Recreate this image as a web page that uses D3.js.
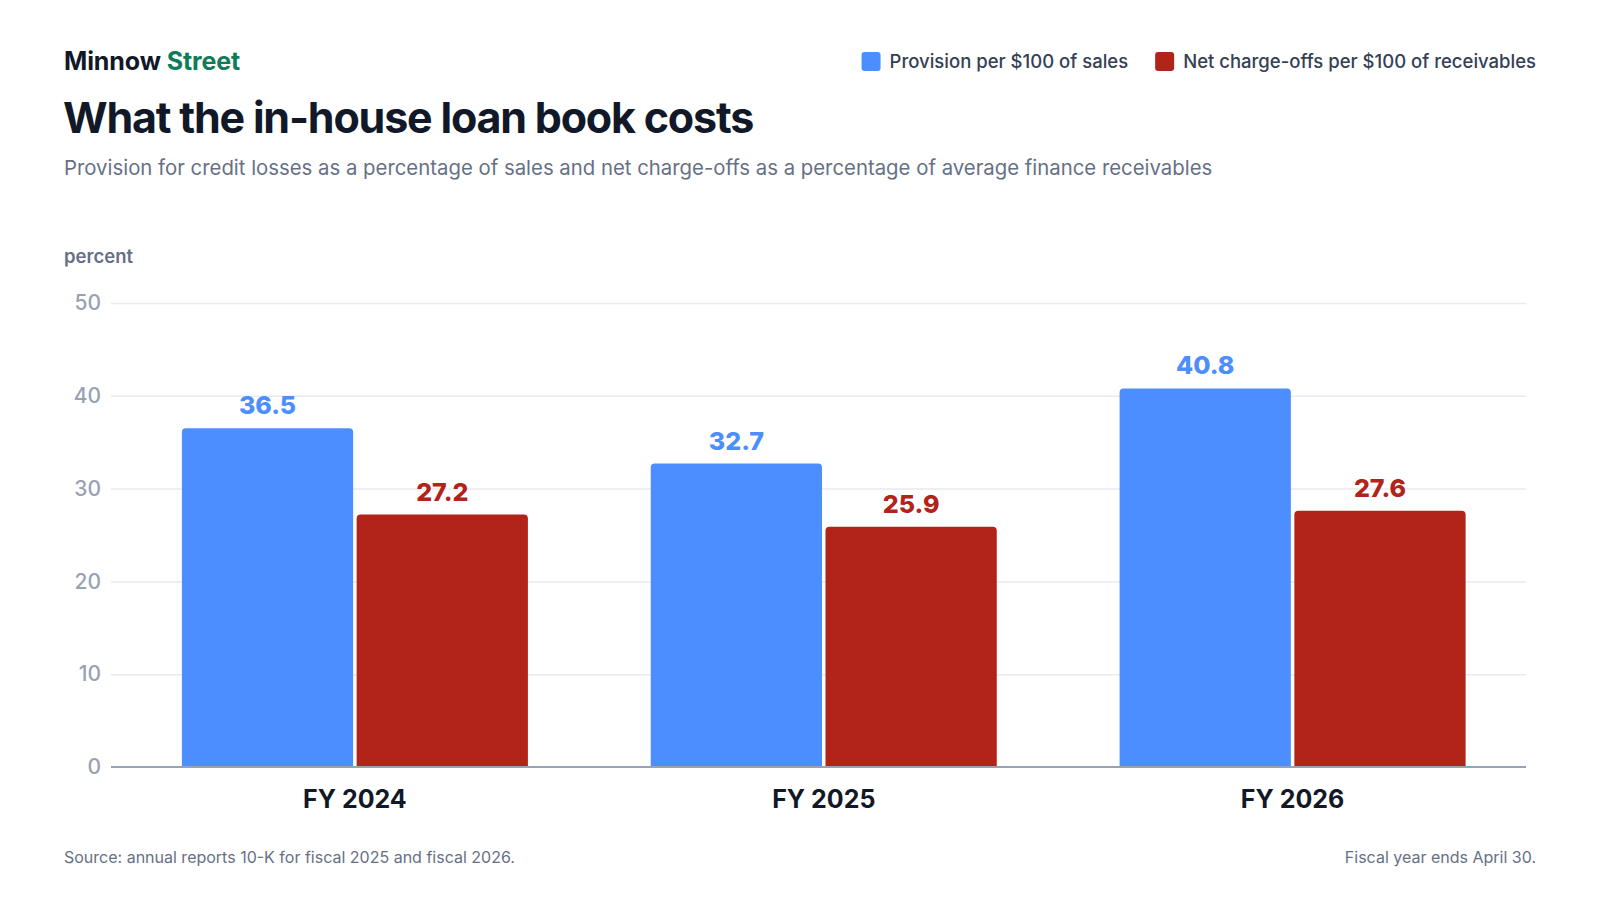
<!DOCTYPE html>
<html lang="en">
<head>
    <meta charset="UTF-8">
    <title>What the in-house loan book costs</title>
    <style>
        body {
            margin: 0;
            padding: 0;
            background: #ffffff;
            font-family: Inter, "Noto Sans", sans-serif;
        }
        svg text { font-family: Inter, "Noto Sans", sans-serif; }
    </style>
</head>
<body>
    <div id="chart"></div>

    <script src="https://d3js.org/d3.v7.min.js"></script>
    <script>
        // Data
        const years = ["FY 2024", "FY 2025", "FY 2026"];
        const seriesKeys = ["provision", "chargeoffs"];
        const seriesNames = ["Provision per $100 of sales", "Net charge-offs per $100 of receivables"];
        const provision = [36.5, 32.7, 40.8];
        const chargeoffs = [27.2, 25.9, 27.6];
        const yTicks = [0, 10, 20, 30, 40, 50];

        const width = 1600;
        const height = 900;
        const margin = {top: 303, right: 74, bottom: 133, left: 111};

        const colors = {provision: "#4d8eff", chargeoffs: "#b22319"};

        const rows = years.map((y, i) => ({year: y, provision: provision[i], chargeoffs: chargeoffs[i]}));

        const svg = d3.select("#chart").append("svg")
            .attr("width", width)
            .attr("height", height);

        const x0 = d3.scaleBand()
            .domain(years)
            .range([margin.left, width - margin.right])
            .paddingInner(0.262)
            .paddingOuter(0.14)
            .align(0.54);

        const x1 = d3.scaleBand()
            .domain(seriesKeys)
            .range([0, x0.bandwidth()])
            .paddingInner(0.02);

        const y = d3.scaleLinear()
            .domain([0, 50])
            .range([height - margin.bottom, margin.top]);

        // Header
        const brand = svg.append("text")
            .attr("x", 64)
            .attr("y", 70)
            .attr("font-size", 25)
            .attr("font-weight", 700)
            .attr("letter-spacing", -0.1);
        brand.append("tspan").attr("fill", "#111827").text("Minnow ");
        brand.append("tspan").attr("fill", "#0e7c58").text("Street");

        svg.append("text")
            .attr("x", 63)
            .attr("y", 133)
            .attr("font-size", 43)
            .attr("font-weight", 700)
            .attr("letter-spacing", -1.2)
            .attr("fill", "#111827")
            .text("What the in-house loan book costs");

        svg.append("text")
            .attr("x", 64)
            .attr("y", 175)
            .attr("font-size", 20.35)
            .attr("fill", "#667085")
            .text("Provision for credit losses as a percentage of sales and net charge-offs as a percentage of average finance receivables");

        // Legend, right aligned
        const legend = svg.append("g").attr("class", "legend");
        let lx = width - 64;
        const legendItems = seriesKeys.map((k, i) => ({key: k, name: seriesNames[i]})).reverse();
        legendItems.forEach(item => {
            const t = legend.append("text")
                .attr("y", 68)
                .attr("font-size", 18.5)
                .attr("font-weight", 500)
                .attr("fill", "#344054")
                .attr("text-anchor", "end")
                .attr("x", lx)
                .text(item.name);
            const w = t.node().getComputedTextLength();
            legend.append("rect")
                .attr("x", lx - w - 28)
                .attr("y", 52)
                .attr("width", 19)
                .attr("height", 19)
                .attr("rx", 3)
                .attr("fill", colors[item.key]);
            lx = lx - w - 28 - 27;
        });

        // Y axis label
        svg.append("text")
            .attr("x", 64)
            .attr("y", 263)
            .attr("font-size", 18.5)
            .attr("font-weight", 600)
            .attr("fill", "#667085")
            .text("percent");

        // Gridlines and tick labels
        const grid = svg.append("g")
            .attr("transform", `translate(${margin.left},0)`)
            .call(d3.axisLeft(y)
                .tickValues(yTicks)
                .tickSize(-(width - margin.left - margin.right))
                .tickPadding(10)
                .tickFormat(d3.format("d")));
        grid.select(".domain").remove();
        grid.selectAll(".tick line")
            .attr("stroke", d => d === 0 ? "none" : "#e8eaef")
            .attr("stroke-width", 1.5);
        grid.selectAll(".tick text")
            .attr("font-size", 21)
            .attr("font-weight", 500)
            .attr("fill", "#98a2b3")
            .attr("font-family", "Inter, sans-serif");

        // Bars
        const groups = svg.append("g")
            .selectAll("g")
            .data(rows)
            .join("g")
            .attr("transform", d => `translate(${x0(d.year)},0)`);

        const r = 4;
        groups.selectAll("path")
            .data(d => seriesKeys.map(k => ({key: k, value: d[k]})))
            .join("path")
            .attr("fill", d => colors[d.key])
            .attr("d", d => {
                const bx = x1(d.key), bw = x1.bandwidth();
                const top = y(d.value), bottom = y(0);
                return `M${bx},${bottom}V${top + r}Q${bx},${top} ${bx + r},${top}` +
                    `H${bx + bw - r}Q${bx + bw},${top} ${bx + bw},${top + r}V${bottom}Z`;
            });

        groups.selectAll("text")
            .data(d => seriesKeys.map(k => ({key: k, value: d[k]})))
            .join("text")
            .attr("x", d => x1(d.key) + x1.bandwidth() / 2)
            .attr("y", d => y(d.value) - 14)
            .attr("text-anchor", "middle")
            .attr("font-size", 25)
            .attr("font-weight", 800)
            .attr("fill", d => colors[d.key])
            .text(d => d3.format(".1f")(d.value));

        // Baseline
        svg.append("line")
            .attr("x1", margin.left)
            .attr("x2", width - margin.right)
            .attr("y1", y(0))
            .attr("y2", y(0))
            .attr("stroke", "#98a2b3")
            .attr("stroke-width", 2);

        // X labels
        const xAxis = svg.append("g")
            .attr("transform", `translate(0,${y(0)})`)
            .call(d3.axisBottom(x0).tickSize(0).tickPadding(23));
        xAxis.select(".domain").remove();
        xAxis.selectAll(".tick text")
            .attr("font-size", 25)
            .attr("font-weight", 700)
            .attr("fill", "#111827")
            .attr("font-family", "Inter, sans-serif");

        // Footer
        svg.append("text")
            .attr("x", 64)
            .attr("y", 863)
            .attr("font-size", 16)
            .attr("fill", "#667085")
            .text("Source: annual reports 10-K for fiscal 2025 and fiscal 2026.");

        svg.append("text")
            .attr("x", width - 64)
            .attr("y", 863)
            .attr("font-size", 16)
            .attr("fill", "#667085")
            .attr("text-anchor", "end")
            .text("Fiscal year ends April 30.");
    </script>
</body>
</html>
